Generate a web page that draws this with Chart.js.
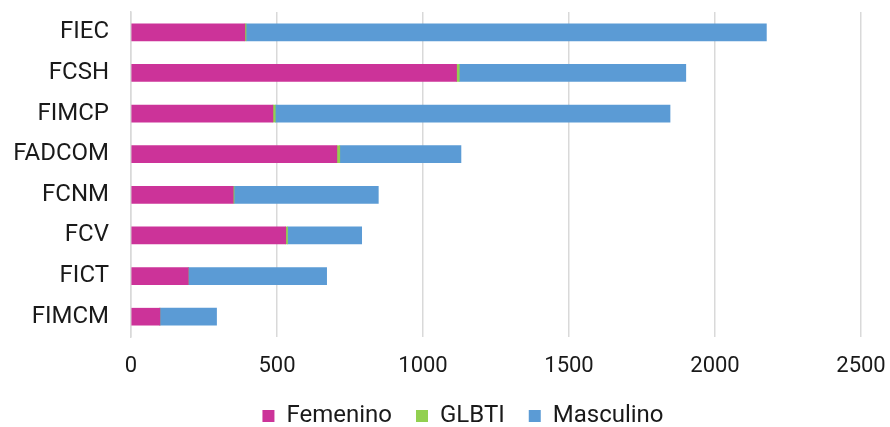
<!DOCTYPE html>
<html>
<head>
<meta charset="utf-8">
<script src="https://cdn.jsdelivr.net/npm/chart.js@4"></script>
<style>
  html,body{margin:0;padding:0;background:#fff;}
  #wrap{width:890px;height:427px;}
</style>
</head>
<body>
<div id="wrap"><canvas id="chart" width="890" height="427"></canvas></div>
<script>
const facultades = ['FIEC','FCSH','FIMCP','FADCOM','FCNM','FCV','FICT','FIMCM'];
const femenino  = [390, 1115, 486, 705, 350, 530, 196, 99];
const glbti     = [4, 9, 8, 10, 3, 6, 0, 0];
const masculino = [1782, 776, 1352, 415, 494, 254, 474, 194];
const xTicks = [0, 500, 1000, 1500, 2000, 2500];

const FONT = 'Roboto';

// legend sits a bit right of the canvas centre in the original
const shiftLegend = {
  id: 'shiftLegend',
  afterUpdate(chart) {
    const l = chart.legend;
    if (!l) return;
    l.left += 65;
    l.adjustHitBoxes();
  }
};

const ctx = document.getElementById('chart');
new Chart(ctx, {
  type: 'bar',
  data: {
    labels: facultades,
    datasets: [
      { label: 'Femenino', data: femenino, backgroundColor: '#CC3399' },
      { label: 'GLBTI', data: glbti, backgroundColor: '#92D050' },
      { label: 'Masculino', data: masculino, backgroundColor: '#5B9BD5' }
    ]
  },
  plugins: [shiftLegend],
  options: {
    indexAxis: 'y',
    responsive: false,
    animation: false,
    barThickness: 17,
    layout: { padding: { top: 12, right: 29, left: 0, bottom: -11 } },
    scales: {
      x: {
        stacked: true,
        min: 0, max: 2500,
        afterBuildTicks: (ax) => { ax.ticks = xTicks.map(v => ({ value: v })); },
        afterFit: (s) => { s.height = 43; s.paddingLeft = 0; s.paddingRight = 0; },
        grid: { color: '#d9d9d9', lineWidth: 1.5, drawTicks: false },
        border: { display: false },
        ticks: {
          font: { family: FONT, size: 22 }, color: '#1a1a1a', padding: 16,
          callback: (v) => String(v)
        }
      },
      y: {
        stacked: true,
        afterFit: (s) => { s.width = 131; s.paddingTop = 0; s.paddingBottom = 0; },
        grid: { display: false, drawTicks: false },
        border: { display: true, color: '#d9d9d9', width: 1.5 },
        ticks: { font: { family: FONT, size: 24 }, color: '#1a1a1a', padding: 22 }
      }
    },
    plugins: {
      legend: {
        position: 'bottom',
        labels: {
          font: { family: FONT, size: 24 },
          color: '#1a1a1a',
          boxWidth: 12, boxHeight: 12,
          padding: 24
        }
      },
      tooltip: { enabled: false }
    }
  }
});
</script>
</body>
</html>
